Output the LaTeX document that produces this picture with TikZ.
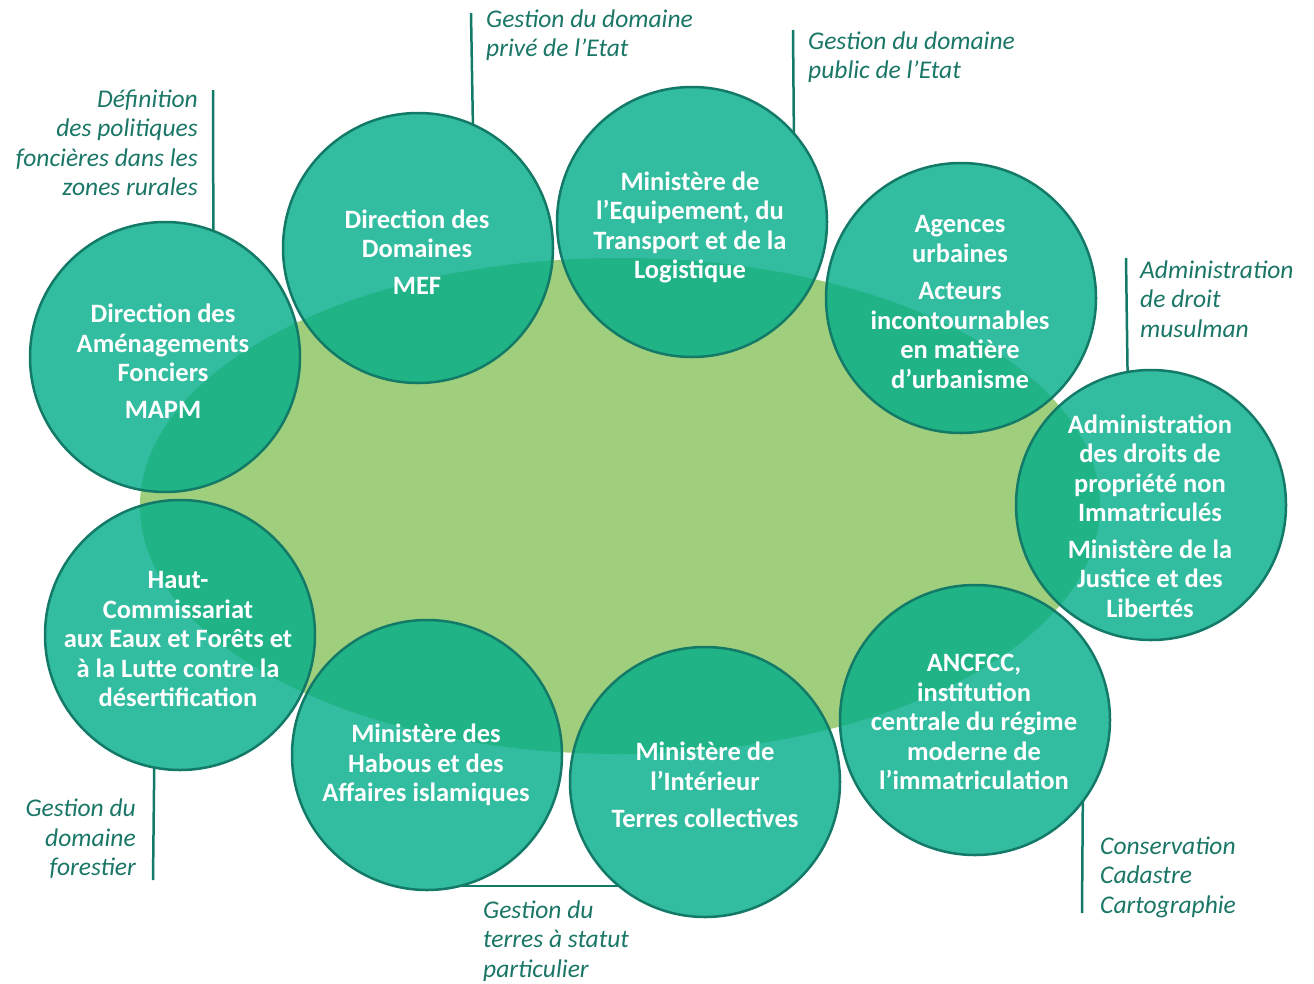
\documentclass[tikz,border=0pt]{standalone}
\usepackage{fontspec}
\setmainfont{Carlito}
\usetikzlibrary{shapes.geometric}
\definecolor{ellgreen}{HTML}{9FCF7D}
\definecolor{circfill}{HTML}{00AC88}
\definecolor{darkteal}{HTML}{137A68}
\definecolor{labteal}{HTML}{1A7666}
\begin{document}
\begin{tikzpicture}[x=1pt,y=-1pt,
  org/.style={circle, minimum size=270pt, inner sep=0pt, outer sep=0pt, fill=circfill, fill opacity=0.8, draw=darkteal, draw opacity=1, line width=2.5pt},
  orgtext/.style={text=white, font=\bfseries\fontsize{26.5}{29.5}\selectfont, align=center, inner sep=0pt},
  role/.style={text=labteal, font=\itshape\fontsize{25.5}{29.5}\selectfont, inner sep=0pt},
  tick/.style={draw=darkteal, line width=2.5pt}]
\useasboundingbox (0,0) rectangle (1314,983);
% central oval
\node (oval) [ellipse, minimum width=960pt, minimum height=496pt, inner sep=0pt, fill=ellgreen] at (620,506) {};
% free ends of the ticks
\coordinate (t1) at (213,90);
\coordinate (t2) at (471,13);
\coordinate (t3) at (793,30);
\coordinate (t5) at (1126,258);
\coordinate (t9) at (153,880);
\coordinate (t6) at (1082,913);
% circles (shapes only)
\node (c1) [org] at (165,357) {};
\node (c2) [org] at (418,248) {};
\node (c3) [org] at (692,222) {};
\node (c4) [org] at (961,298) {};
\node (c5) [org] at (1151,505) {};
\node (c6) [org] at (975,720) {};
\node (c7) [org] at (705,782) {};
\node (c8) [org] at (427,755) {};
\node (c9) [org] at (180,635) {};
% ticks
\draw[tick] (t1) -- (c1.69.2);
\draw[tick] (t2) -- (c2.66.9);
\draw[tick] (t3) -- (c3.41.6);
\draw[tick] (t5) -- (c5.100.7);
\draw[tick] (t9) -- (c9.-101.5);
\draw[tick] (t6) -- (c6.-37.6);
\draw[tick] (c8.-76) -- (c8.-76 -| c7.-129.6);
% circle texts
\node (x1) [orgtext] at (163,361) {Direction des\\Aménagements\\Fonciers\\[7pt]MAPM};
\node (x2) [orgtext] at (417,252) {Direction des\\Domaines\\[7pt]MEF};
\node (x3) [orgtext] at (690,227.5) {Ministère de\\l’Equipement, du\\Transport et de la\\Logistique};
\node (x4) [orgtext] at (960,302) {Agences\\urbaines\\[8pt]Acteurs\\incontournables\\en matière\\d’urbanisme};
\node (x5) [orgtext] at (1150,516) {Administration\\des droits de\\propriété non\\Immatriculés\\[7pt]Ministère de la\\Justice et des\\Libertés};
\node (x6) [orgtext] at (974,722) {ANCFCC,\\institution\\centrale du régime\\moderne de\\l’immatriculation};
\node (x7) [orgtext] at (705,785) {Ministère de\\l’Intérieur\\[8pt]Terres collectives};
\node (x8) [orgtext] at (426,765) {Ministère des\\Habous et des\\Affaires islamiques};
\node (x9) [orgtext] at (178,639) {Haut-\\Commissariat\\aux Eaux et Forêts et\\à la Lutte contre la\\désertification};
% role labels
\node (r1) [role, align=right, anchor=east] at (198,143) {Définition\\des politiques\\foncières dans les\\zones rurales};
\node (r2) [role, align=left, anchor=west] at (486,35) {Gestion du domaine\\privé de l’Etat};
\node (r3) [role, align=left, anchor=west] at (808,57) {Gestion du domaine\\public de l’Etat};
\node (r4) [role, align=left, anchor=west] at (1140,299) {Administration\\de droit\\musulman};
\node (r5) [role, align=right, anchor=east] at (136,839) {Gestion du\\domaine\\forestier};
\node (r6) [role, align=left, anchor=west] at (483,941) {Gestion du\\terres à statut\\particulier};
\node (r7) [role, align=left, anchor=west] at (1100,877) {Conservation\\Cadastre\\Cartographie};
\end{tikzpicture}
\end{document}
